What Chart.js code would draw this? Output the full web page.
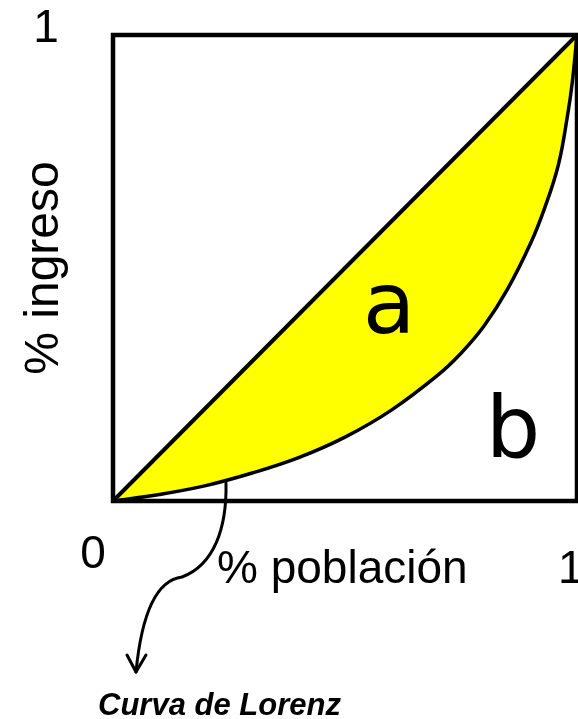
<!DOCTYPE html>
<html lang="es">
<head>
  <meta charset="UTF-8">
  <title>Curva de Lorenz</title>
  <script src="https://cdn.jsdelivr.net/npm/chart.js"></script>
  <style>
    html, body { margin: 0; padding: 0; background: #fff; }
    #chartBox { width: 578px; height: 719px; }
  </style>
</head>
<body>
  <div id="chartBox">
    <canvas id="lorenzChart" width="578" height="719"></canvas>
  </div>

  <script>
    // Data (fraction of population vs fraction of income)
    const equalityX = [0, 1];
    const equalityY = [0, 1];
    const lorenzX = [0, 0.1, 0.2, 0.3, 0.4, 0.5, 0.6, 0.7, 0.75, 0.8, 0.85, 0.9, 0.93, 0.96, 0.98, 0.99, 1];
    const lorenzY = [0, 0.014, 0.033, 0.06, 0.093, 0.137, 0.195, 0.27, 0.317, 0.376, 0.454, 0.553, 0.628, 0.722, 0.83, 0.9, 1];

    // Annotation arrow in data units: start point, then two cubic segments
    const arrowStart = [0.2435, 0.0386];
    const arrowSeg1 = [[0.2457, -0.0579], [0.2177, -0.1373], [0.1487, -0.1631]];
    const arrowSeg2 = [[0.0970, -0.1695], [0.0625, -0.2339], [0.0496, -0.3670]];
    const arrowWings = [[0.0302, -0.3305], [0.0711, -0.3305]];

    const toPoints = (xs, ys) => xs.map((x, i) => ({ x: x, y: ys[i] }));

    // draws box, labels and the arrow
    const decorPlugin = {
      id: 'decor',
      afterDatasetsDraw(chart) {
        const ctx = chart.ctx;
        const a = chart.chartArea;
        const xs = chart.scales.x, ys = chart.scales.y;
        const px = v => xs.getPixelForValue(v);
        const py = v => ys.getPixelForValue(v);

        ctx.save();
        ctx.strokeStyle = '#000';
        ctx.lineWidth = 4.5;
        ctx.strokeRect(a.left, a.top, a.right - a.left, a.bottom - a.top);

        // arrow
        ctx.lineWidth = 3;
        ctx.lineCap = 'round';
        ctx.lineJoin = 'round';
        ctx.beginPath();
        ctx.moveTo(px(arrowStart[0]), py(arrowStart[1]));
        [arrowSeg1, arrowSeg2].forEach(s => {
          ctx.bezierCurveTo(px(s[0][0]), py(s[0][1]), px(s[1][0]), py(s[1][1]), px(s[2][0]), py(s[2][1]));
        });
        ctx.stroke();
        const tip = arrowSeg2[2];
        ctx.beginPath();
        ctx.moveTo(px(arrowWings[0][0]), py(arrowWings[0][1]));
        ctx.lineTo(px(tip[0]), py(tip[1]));
        ctx.lineTo(px(arrowWings[1][0]), py(arrowWings[1][1]));
        ctx.stroke();

        // texts
        ctx.fillStyle = '#000';
        ctx.textBaseline = 'alphabetic';
        ctx.font = '46px "Liberation Sans", Arial, sans-serif';
        ctx.textAlign = 'center';
        ctx.fillText('1', 46, 42);
        ctx.fillText('0', 93, 568);
        ctx.textAlign = 'left';
        ctx.fillText('% población', 217, 583);
        ctx.fillText('1', 558, 583);

        ctx.save();
        ctx.translate(58, 268);
        ctx.rotate(-Math.PI / 2);
        ctx.textAlign = 'center';
        ctx.font = '48px "Liberation Sans", Arial, sans-serif';
        ctx.fillText('% ingreso', 0, 0);
        ctx.restore();

        ctx.textAlign = 'center';
        ctx.font = '86px "DejaVu Sans", sans-serif';
        ctx.fillText('a', 389, 333);
        ctx.fillText('b', 513, 457);

        ctx.textAlign = 'left';
        ctx.font = 'italic bold 31px "Liberation Sans", Arial, sans-serif';
        ctx.fillText('Curva de Lorenz', 98, 715);
        ctx.restore();
      }
    };

    new Chart(document.getElementById('lorenzChart'), {
      type: 'scatter',
      data: {
        datasets: [
          {
            label: 'Igualdad',
            data: toPoints(equalityX, equalityY),
            showLine: true,
            borderColor: '#000',
            borderWidth: 4,
            pointRadius: 0,
            fill: false,
            clip: false
          },
          {
            label: 'Curva de Lorenz',
            data: toPoints(lorenzX, lorenzY),
            showLine: true,
            borderColor: '#000',
            borderWidth: 3.5,
            tension: 0.4,
            pointRadius: 0,
            backgroundColor: '#ffff00',
            fill: 0,
            clip: false
          }
        ]
      },
      options: {
        responsive: false,
        animation: false,
        layout: { padding: { left: 113, top: 35, right: 1, bottom: 218 } },
        scales: {
          x: { type: 'linear', min: 0, max: 1, display: false },
          y: { type: 'linear', min: 0, max: 1, display: false }
        },
        plugins: {
          legend: { display: false },
          tooltip: { enabled: false }
        }
      },
      plugins: [decorPlugin]
    });
  </script>
</body>
</html>
